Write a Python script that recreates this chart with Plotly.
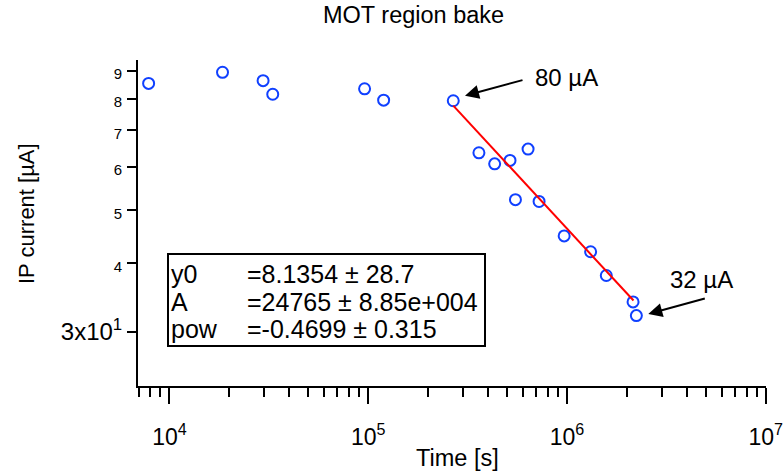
import plotly.graph_objects as go

# ---------------- data ----------------
time_s = [7860, 18500, 29600, 33100, 95900, 119600, 267900, 360600, 432700,
          516900, 550500, 637200, 723900, 968000, 1315000, 1577000, 2150000, 2234000]
current_uA = [85.3, 89.4, 86.3, 81.5, 83.4, 79.5, 79.3, 63.7, 60.8,
              61.7, 52.3, 64.7, 51.9, 44.9, 42.0, 38.0, 34.0, 32.1]

fit_x = [267900, 2161000]
fit_y = [77.7, 34.2]

x_major = [1e4, 1e5, 1e6, 1e7]
x_major_text = ["10<sup>4</sup>", "10<sup>5</sup>", "10<sup>6</sup>", "10<sup>7</sup>"]
x_minor = [m * 10 ** e for e in range(3, 7) for m in range(2, 10)]

y_ticks = [30, 40, 50, 60, 70, 80, 90]
y_tick_text = ["3x10<sup>1</sup>", "4", "5", "6", "7", "8", "9"]

param_names = ["y0", "A", "pow"]
param_values = ["=8.1354 ± 28.7", "=24765 ± 8.85e+004", "=-0.4699 ± 0.315"]

labels = ["80 µA", "32 µA"]

# ---------------- layout geometry ----------------
W, H = 783, 472
L, R, T, B = 138, 766, 60, 386
FONT = "Liberation Sans, Arial, Helvetica, sans-serif"


def px(xp):
    return (xp - L) / (R - L)


def py(yp):
    return (B - yp) / (B - T)


fig = go.Figure()
fig.add_trace(go.Scatter(
    x=time_s, y=current_uA, mode="markers",
    marker=dict(symbol="circle-open", size=11, color="#1040ff",
                line=dict(width=2, color="#1040ff")),
    showlegend=False))
fig.add_trace(go.Scatter(
    x=fit_x, y=fit_y, mode="lines",
    line=dict(color="#ff0000", width=2), showlegend=False))

ytext = [t if i == 0 else f"<span style='font-size:15px'>{t}</span>"
         for i, t in enumerate(y_tick_text)]

fig.update_layout(
    width=W, height=H,
    margin=dict(l=L, r=W - R, t=T, b=H - B),
    plot_bgcolor="white", paper_bgcolor="white",
    font=dict(family=FONT, color="black", size=22),
    xaxis=dict(
        type="log", range=[3.842, 7.0012], showgrid=False, zeroline=False,
        automargin=False, ticklabeloverflow="allow",
        showline=True, linecolor="black", linewidth=2,
        ticks="outside", ticklen=16, tickwidth=2, tickcolor="black",
        tickmode="array", tickvals=x_major, ticktext=x_major_text,
        tickfont=dict(size=23), ticklabelstandoff=13,
        minor=dict(tickmode="array", tickvals=x_minor, ticks="outside",
                   ticklen=9, tickwidth=2, tickcolor="black", showgrid=False),
    ),
    yaxis=dict(
        type="log", range=[1.3778, 1.9738], showgrid=False, zeroline=False,
        automargin=False,
        showline=True, linecolor="black", linewidth=2,
        ticks="outside", ticklen=9, tickwidth=2, tickcolor="black",
        tickmode="array", tickvals=y_ticks, ticktext=ytext,
        tickfont=dict(size=24),
    ),
)

ann = []
# title and axis titles
ann.append(dict(text="MOT region bake", x=px(413.5), y=py(15), xref="paper", yref="paper",
                showarrow=False, font=dict(size=23.5), xanchor="center", yanchor="middle"))
ann.append(dict(text="Time [s]", x=px(457), y=py(458), xref="paper", yref="paper",
                showarrow=False, font=dict(size=23.5), xanchor="center", yanchor="middle"))
ann.append(dict(text="IP current [µA]", x=px(26), y=py(214), xref="paper", yref="paper",
                showarrow=False, font=dict(size=22), textangle=-90,
                xanchor="center", yanchor="middle"))

# fit parameter box text
line_y = [274, 302, 329]
for name, val, yy in zip(param_names, param_values, line_y):
    ann.append(dict(text=name, x=px(169), y=py(yy), xref="paper", yref="paper",
                    showarrow=False, font=dict(size=25), xanchor="left", yanchor="middle"))
    ann.append(dict(text=val, x=px(245), y=py(yy), xref="paper", yref="paper",
                    showarrow=False, font=dict(size=25), xanchor="left", yanchor="middle"))

# labels with arrows
ann.append(dict(text=labels[0], x=px(566.3), y=py(77.5), xref="paper", yref="paper",
                showarrow=False, font=dict(size=24), xanchor="center", yanchor="middle"))
ann.append(dict(text=labels[1], x=px(701.2), y=py(279.5), xref="paper", yref="paper",
                showarrow=False, font=dict(size=24), xanchor="center", yanchor="middle"))
ann.append(dict(text="", x=px(465), y=py(95.7), xref="paper", yref="paper",
                showarrow=True, ax=59, ay=-16, arrowhead=2, arrowsize=1.4,
                arrowwidth=2, arrowcolor="black"))
ann.append(dict(text="", x=px(648.3), y=py(314), xref="paper", yref="paper",
                showarrow=True, ax=58, ay=-16, arrowhead=2, arrowsize=1.4,
                arrowwidth=2, arrowcolor="black"))

fig.update_layout(annotations=ann)

fig.add_shape(type="rect", xref="paper", yref="paper",
              x0=px(168), x1=px(485), y0=py(254), y1=py(346),
              line=dict(color="black", width=2), fillcolor="rgba(0,0,0,0)")

fig.write_html("out.html")
